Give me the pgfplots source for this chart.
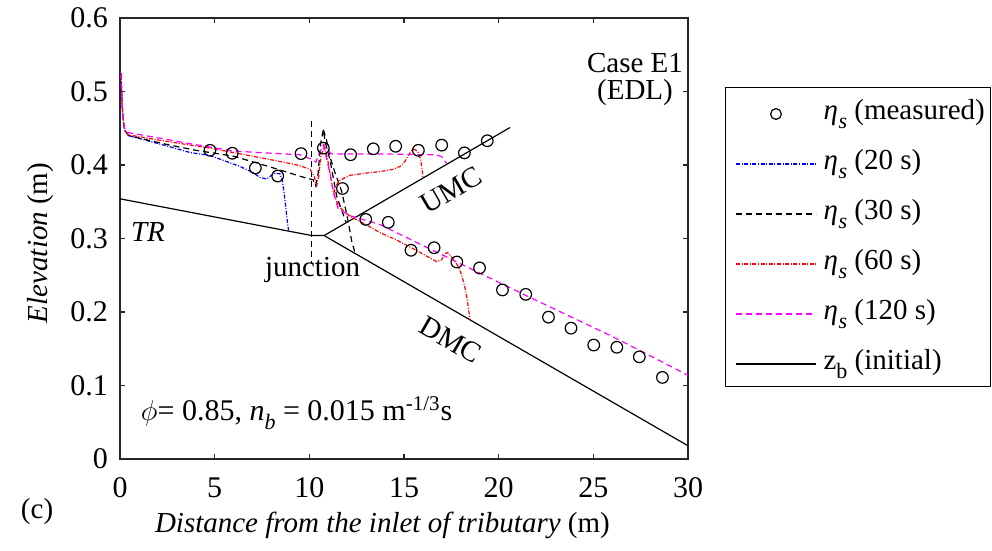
\documentclass[border=0pt]{standalone}
\usepackage{fontspec}
\setmainfont{Liberation Serif}
\usepackage{pgfplots}
\pgfplotsset{compat=1.18}
\definecolor{axgray}{RGB}{38,38,38}
\definecolor{mag}{RGB}{255,0,255}
\newcommand{\fs}{\fontsize{14.5bp}{17bp}\selectfont}
\newcommand{\sub}[1]{\raisebox{-4.5bp}{\fontsize{11bp}{11bp}\selectfont #1}}
\newcommand{\etas}{\textit{η}\kern0.3bp\sub{\textit{s}}}
\tikzset{dd/.style={dash pattern=on 2bp off 0.8bp on 0.5bp off 0.8bp},
         ds/.style={dash pattern=on 3bp off 2bp}}
\begin{document}
\begin{tikzpicture}
\useasboundingbox (-60bp,-46bp) rectangle (436bp,229.5bp);
\begin{axis}[
 at={(0,0)}, anchor=south west,
 scale only axis, width=284bp, height=220.5bp,
 xmin=0, xmax=30, ymin=0, ymax=0.6,
 xtick={0,5,10,15,20,25,30}, ytick={0,0.1,0.2,0.3,0.4,0.5,0.6},
 tick align=inside, tick pos=both, major tick length=2.5bp,
 axis line style={axgray, line width=0.65bp},
 every tick/.style={axgray, line width=0.65bp},
 tick label style={font=\fontsize{15bp}{17bp}\selectfont, text=black},
 /pgf/number format/assume math mode=true,
 yticklabel style={/pgf/number format/fixed, /pgf/number format/precision=1, xshift=-2.5bp},
 xticklabel style={yshift=-6bp},
 ylabel={\textit{Elevation} (m)},
 xlabel={\textit{Distance from the inlet of tributary} (m)},
 every axis y label/.style={at={(axis description cs:-0.14,0.49)}, rotate=90, anchor=center, font=\fs},
 every axis x label/.style={at={(axis description cs:0.462,-0.1497)}, anchor=center, font=\fs},
 clip=false,
 legend image code/.code={\draw[mark repeat=2,mark phase=2,#1] plot coordinates {(0bp,0bp) (20bp,0bp) (40bp,0bp)};},
 legend style={at={(axis description cs:1.0827,0.8172)}, anchor=north west,
   draw=none, fill=none, inner sep=0pt, font=\fs, row sep=10bp, column sep=3.5bp,
   nodes={inner sep=0pt, text height=10bp, text depth=5bp}},
 legend cell align=left,
]
\draw[black, line width=0.5bp] (rel axis cs:1.0669,0.1642) rectangle (rel axis cs:1.5317,0.8435);

\addlegendimage{only marks, mark=o, mark size=2.7bp, line width=0.6bp, black}
\addlegendentry{\etas\ (measured)}
\addlegendimage{blue, dd, line width=0.6bp}
\addlegendentry{\etas\ (20 s)}
\addlegendimage{black, ds, line width=0.6bp}
\addlegendentry{\etas\ (30 s)}
\addlegendimage{red, dd, line width=0.6bp}
\addlegendentry{\etas\ (60 s)}
\addlegendimage{mag, ds, line width=0.6bp}
\addlegendentry{\etas\ (120 s)}
\addlegendimage{black, solid, line width=0.6bp}
\addlegendentry{z\sub{b} (initial)}

% initial bed
\addplot[forget plot, black, line width=0.6bp] coordinates {(0,0.354) (10.13,0.304) (10.78,0.304) (20.6,0.451)};
\addplot[forget plot, black, line width=0.6bp] coordinates {(10.78,0.304) (30,0.018)};

% 20 s
\addplot[forget plot, blue, dd, line width=0.6bp] coordinates {
(0.05,0.525) (0.1,0.49) (0.15,0.465) (0.25,0.447) (0.45,0.440) (2.47,0.426) (3.7,0.417) (4.75,0.413)
(5.81,0.403) (6.34,0.398) (7.0,0.390) (7.4,0.383) (7.75,0.381) (8.0,0.386) (8.2,0.389) (8.45,0.388)
(8.58,0.378) (8.7,0.355) (8.8,0.332) (8.9,0.311)};

% 30 s
\addplot[forget plot, black, ds, line width=0.6bp] coordinates {
(0.05,0.525) (0.1,0.49) (0.15,0.465) (0.25,0.447) (0.45,0.440) (2.47,0.428) (4.0,0.420) (6.0,0.412)
(8.1,0.396) (9.86,0.382) (10.2,0.380) (10.33,0.372) (10.45,0.385) (10.6,0.43) (10.74,0.448)
(10.85,0.43) (11.09,0.407) (11.45,0.357) (11.94,0.322)};
\addplot[forget plot, black, ds, line width=0.6bp] coordinates {
(10.74,0.448) (10.9,0.435) (11.1,0.41) (11.35,0.39) (11.71,0.364) (12.0,0.33) (12.25,0.295) (12.42,0.28)};
\addplot[forget plot, black, ds, line width=0.6bp] coordinates {(10.13,0.46) (10.13,0.265)};

% 60 s
\addplot[forget plot, red, dd, line width=0.6bp] coordinates {
(0.05,0.522) (0.1,0.49) (0.15,0.465) (0.25,0.447) (0.45,0.441) (2.5,0.432) (4.75,0.423) (7.0,0.412)
(9.0,0.402) (9.51,0.399) (10.04,0.394) (10.25,0.385) (10.39,0.372) (10.5,0.385) (10.6,0.41) (10.78,0.426)
(10.95,0.41) (11.09,0.389) (11.25,0.365) (11.45,0.350) (11.62,0.342) (12.15,0.330) (12.85,0.321)
(13.73,0.308) (14.61,0.298) (15.5,0.286) (16.2,0.276) (16.73,0.2685) (16.99,0.271) (17.15,0.279)
(17.29,0.281) (17.45,0.277) (17.6,0.272) (17.87,0.262) (18.05,0.25) (18.23,0.232) (18.35,0.215) (18.49,0.189)};
\addplot[forget plot, red, dd, line width=0.6bp] coordinates {
(11.3,0.362) (11.36,0.37) (11.6,0.379) (12.15,0.386) (13.0,0.389) (13.73,0.391) (14.4,0.394) (14.79,0.398)
(15.05,0.405) (15.25,0.414) (15.45,0.421) (15.6,0.421) (15.75,0.417) (15.88,0.407) (15.95,0.395) (16.0,0.383)};

% 120 s
\addplot[forget plot, mag, ds, line width=0.6bp] coordinates {
(0.05,0.525) (0.1,0.49) (0.15,0.465) (0.25,0.449) (0.45,0.444) (2.0,0.437) (3.7,0.429) (6.0,0.419)
(8.0,0.416) (9.5,0.414) (10.1,0.408) (10.35,0.404) (10.5,0.415) (10.74,0.428) (10.9,0.42) (11.2,0.415)
(12.15,0.415) (14.0,0.415) (16.0,0.414) (16.73,0.414) (17.0,0.411) (17.15,0.406) (17.25,0.402)};
\addplot[forget plot, mag, ds, line width=0.6bp] coordinates {
(10.74,0.428) (10.9,0.41) (11.09,0.389) (11.3,0.36) (11.53,0.340) (12.15,0.331) (13.73,0.319)
(17.79,0.268) (21.4,0.223) (26.06,0.166) (30,0.114)};

% measured
\addplot[forget plot, only marks, mark=o, mark size=2.9bp, line width=0.6bp, black] coordinates {
(4.75,0.420) (5.93,0.416) (7.15,0.396) (8.33,0.385) (9.56,0.4155) (10.74,0.423) (11.75,0.368)
(12.18,0.414) (12.98,0.326) (13.38,0.422) (14.17,0.322) (14.56,0.4255) (15.37,0.284) (15.76,0.420)
(16.59,0.2875) (16.99,0.427) (17.79,0.268) (18.19,0.4165) (18.99,0.260) (19.40,0.433) (20.2,0.230)
(21.43,0.224) (22.63,0.193) (23.82,0.178) (25.02,0.155) (26.24,0.152) (27.43,0.139) (28.65,0.111)};

% annotations
\node[font=\fs] at (axis cs:1.48,0.309) {\textit{TR}};
\node[font=\fs] at (axis cs:10.17,0.257) {junction};
\node[font=\fs, rotate=30] at (axis cs:17.5,0.366) {UMC};
\node[font=\fs, rotate=-30] at (axis cs:17.46,0.162) {DMC};
\node[font=\fs, align=center, inner sep=0pt] at (axis cs:27.2,0.517) {Case E1\\[-3.5bp](EDL)};
\node[font=\fontsize{15bp}{17bp}\selectfont] at (axis cs:9.33,0.062) {$\phi$= 0.85, \textit{n}\sub{\textit{b}} = 0.015 m\textsuperscript{-1/3}s};
\node[font=\fs] at (rel axis cs:-0.146,-0.120) {(c)};
\end{axis}
\end{tikzpicture}
\end{document}
